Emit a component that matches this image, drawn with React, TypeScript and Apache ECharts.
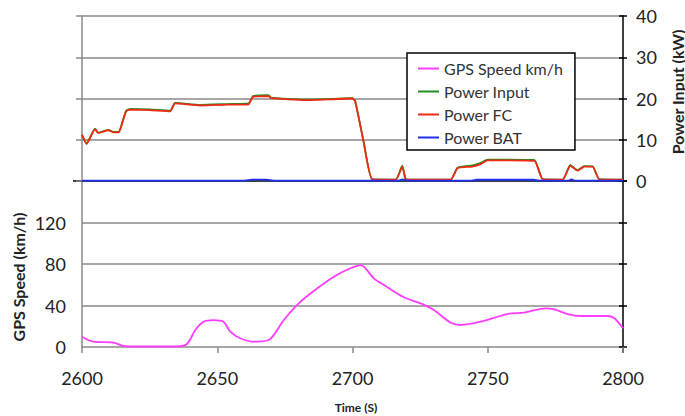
import React, { useEffect, useRef } from "react";
import * as echarts from "echarts";

const timeMin = 2600;
const timeMax = 2800;
const timeTicks = [2600, 2650, 2700, 2750, 2800];
const speedTicks = [0, 40, 80, 120];
const powerTicks = [0, 10, 20, 30, 40];

const fcT = [2600, 2601.7, 2603, 2604.8, 2606, 2609.7, 2611.6, 2613.5, 2614.3, 2616.3, 2617.8, 2625, 2632.6, 2634.4, 2643.7, 2653.6, 2661.6, 2663.2, 2669, 2669.9, 2682.6, 2699.9, 2701, 2704.2, 2707.3, 2716, 2718.4, 2719.6, 2720.9, 2736.3, 2738.8, 2744.3, 2747.4, 2749.9, 2767.2, 2770.3, 2777.7, 2780.5, 2783.2, 2785.7, 2788.8, 2791.2, 2800];
const fcV = [11.2, 9.0, 10.5, 12.6, 11.6, 12.3, 11.8, 11.8, 12.8, 16.9, 17.3, 17.2, 16.9, 18.8, 18.3, 18.5, 18.6, 20.4, 20.6, 20.1, 19.6, 20.0, 19.3, 9.2, 0.4, 0.3, 3.5, 0.5, 0.3, 0.3, 3.1, 3.5, 4.1, 5.0, 4.9, 0.4, 0.3, 3.7, 2.5, 3.5, 3.5, 0.4, 0.3];
const inV = [11.25, 9.05, 10.55, 12.7, 11.7, 12.4, 11.9, 11.9, 12.9, 17.05, 17.45, 17.35, 17.05, 18.95, 18.45, 18.65, 18.8, 20.6, 20.8, 20.2, 19.7, 20.1, 19.4, 9.25, 0.45, 0.35, 3.7, 0.55, 0.35, 0.35, 3.2, 3.8, 4.4, 5.2, 5.1, 0.45, 0.35, 3.9, 2.6, 3.6, 3.55, 0.45, 0.35];

const batT = [2600, 2660, 2663, 2668, 2671, 2717, 2718.5, 2720, 2744, 2746, 2767, 2769, 2780, 2781, 2782, 2800];
const batV = [0.1, 0.1, 0.35, 0.35, 0.1, 0.1, 0.4, 0.1, 0.1, 0.3, 0.3, 0.1, 0.1, 0.4, 0.1, 0.1];

const gpsT = [2600, 2604.2, 2611.6, 2615.3, 2619, 2635, 2638.8, 2641.9, 2644.9, 2648.6, 2652.3, 2654.8, 2658.5, 2663.4, 2669, 2674.6, 2680.1, 2687, 2693.1, 2698.6, 2703, 2707.9, 2711.6, 2719, 2725.2, 2730.1, 2736.3, 2740, 2747.4, 2757.3, 2763.4, 2771.5, 2774.6, 2779.5, 2784.4, 2794.3, 2796.8, 2800];
const gpsV = [9.9, 5.1, 4.2, 1.0, 0.5, 0.5, 2.9, 16.4, 24.4, 26, 24.4, 14.8, 8.4, 5.1, 6.7, 26, 42.1, 56.6, 67.8, 75.2, 79, 66.2, 59.8, 47.9, 42.1, 35.7, 23.4, 21.2, 24.4, 31.8, 33.1, 37.3, 36.3, 31.8, 29.9, 29.9, 27.7, 18];

const zip = (t: number[], v: number[]) => t.map((x, i) => [x, v[i]]);

const FONT = "Lato, 'Open Sans', sans-serif";
const GRAY = "#8a8a8a";

export default function App() {
  const ref = useRef<HTMLDivElement>(null);
  useEffect(() => {
    if (!ref.current) return;
    const chart = echarts.init(ref.current, undefined, { renderer: "svg" });
    const labelStyle = { color: "#222", fontSize: 18, fontFamily: FONT };
    chart.setOption({
      animation: false,
      backgroundColor: "#fff",
      grid: [
        { left: 82, right: 62, top: 16, height: 165 },
        { left: 82, right: 62, top: 181, height: 166 },
      ],
      xAxis: [
        {
          gridIndex: 0, type: "value", min: timeMin, max: timeMax, interval: 50,
          axisLine: { lineStyle: { color: "#000", width: 1.5 } },
          axisTick: { show: false }, axisLabel: { show: false }, splitLine: { show: false },
        },
        {
          gridIndex: 1, type: "value", min: timeMin, max: timeMax, interval: 50,
          axisLine: { lineStyle: { color: GRAY, width: 1.5 } },
          axisTick: { show: true, length: 6, lineStyle: { color: GRAY, width: 1.5 } },
          axisLabel: { ...labelStyle, margin: 22, formatter: (v: number) => (timeTicks.includes(v) ? String(v) : "") },
          splitLine: { show: false },
        },
      ],
      yAxis: [
        {
          gridIndex: 0, type: "value", position: "left", min: 0, max: 40, interval: 10,
          axisLine: { show: true, lineStyle: { color: GRAY, width: 1.5 } },
          axisTick: { show: true, length: 6, lineStyle: { color: GRAY, width: 1.5 } },
          axisLabel: { show: false },
          splitLine: { show: true, showMinLine: false, lineStyle: { color: GRAY, width: 1.5 } },
        },
        {
          gridIndex: 0, type: "value", position: "right", min: 0, max: 40, interval: 10,
          axisLine: { show: true, lineStyle: { color: "#000", width: 1.5 } },
          axisTick: { show: true, length: 4, lineStyle: { color: "#000", width: 1.5 } },
          axisLabel: { ...labelStyle, margin: 13, formatter: (v: number) => (powerTicks.includes(v) ? String(v) : "") },
          splitLine: { show: false },
        },
        {
          gridIndex: 0, type: "value", position: "right", min: 0, max: 40, interval: 10,
          axisLine: { show: false },
          axisTick: { show: true, inside: true, length: 4, lineStyle: { color: "#000", width: 1.5 } },
          axisLabel: { show: false }, splitLine: { show: false },
        },
        {
          gridIndex: 1, type: "value", position: "left", min: 0, max: 160, interval: 40,
          axisLine: { show: true, lineStyle: { color: GRAY, width: 1.5 } },
          axisTick: { show: false },
          axisLabel: { ...labelStyle, margin: 16, formatter: (v: number) => (speedTicks.includes(v) ? String(v) : "") },
          splitLine: { show: true, showMinLine: false, showMaxLine: false, lineStyle: { color: GRAY, width: 1.5 } },
        },
        {
          gridIndex: 1, type: "value", position: "right", min: 0, max: 160, interval: 40,
          axisLine: { show: true, lineStyle: { color: "#000", width: 1.5 } },
          axisTick: { show: true, length: 4, lineStyle: { color: "#000", width: 1.5 } },
          axisLabel: { show: false }, splitLine: { show: false },
        },
        {
          gridIndex: 1, type: "value", position: "right", min: 0, max: 160, interval: 40,
          axisLine: { show: false },
          axisTick: { show: true, inside: true, length: 4, lineStyle: { color: "#000", width: 1.5 } },
          axisLabel: { show: false }, splitLine: { show: false },
        },
      ],
      legend: {
        left: 407, top: 53, orient: "vertical",
        data: ["GPS Speed km/h", "Power Input", "Power FC", "Power BAT"],
        icon: "rect", itemWidth: 21, itemHeight: 2, itemGap: 6,
        padding: [7, 12, 4, 11],
        borderColor: "#000", borderWidth: 1.5, backgroundColor: "#fff",
        textStyle: { color: "#333", fontSize: 16, fontFamily: FONT, lineHeight: 17 },
      },
      graphic: [
        { type: "line", shape: { x1: 73, y1: 181, x2: 82, y2: 181 }, style: { stroke: "#000", lineWidth: 1.5 } },
        { type: "line", shape: { x1: 623, y1: 347, x2: 623, y2: 353 }, style: { stroke: "#000", lineWidth: 1.5 } },
        {
          type: "text", x: 18, y: 277, rotation: Math.PI / 2,
          style: { text: "GPS Speed (km/h)", fill: "#222", font: `bold 16px ${FONT}`, align: "center", verticalAlign: "middle" },
        },
        {
          type: "text", x: 677, y: 92, rotation: Math.PI / 2,
          style: { text: "Power Input (kW)", fill: "#222", font: `bold 16px ${FONT}`, align: "center", verticalAlign: "middle" },
        },
        {
          type: "text", x: 356, y: 407,
          style: { text: "Time (S)", fill: "#222", font: `bold 12px ${FONT}`, align: "center", verticalAlign: "middle" },
        },
      ],
      series: [
        {
          name: "GPS Speed km/h", type: "line", xAxisIndex: 1, yAxisIndex: 3,
          data: zip(gpsT, gpsV), symbol: "none", smooth: 0.3,
          lineStyle: { color: "#ff3cff", width: 1.8 }, itemStyle: { color: "#ff3cff" },
        },
        {
          name: "Power Input", type: "line", xAxisIndex: 0, yAxisIndex: 1,
          data: zip(fcT, inV), symbol: "none", smooth: 0.15,
          lineStyle: { color: "#1f8f1f", width: 1.8 }, itemStyle: { color: "#1f8f1f" },
        },
        {
          name: "Power FC", type: "line", xAxisIndex: 0, yAxisIndex: 1,
          data: zip(fcT, fcV), symbol: "none", smooth: 0.15,
          lineStyle: { color: "#f22a14", width: 1.8 }, itemStyle: { color: "#f22a14" },
        },
        {
          name: "Power BAT", type: "line", xAxisIndex: 0, yAxisIndex: 1,
          data: zip(batT, batV), symbol: "none",
          lineStyle: { color: "#1f2ff0", width: 1.8 }, itemStyle: { color: "#1f2ff0" },
        },
      ],
    });
    return () => chart.dispose();
  }, []);
  return <div ref={ref} style={{ position: "fixed", left: 0, top: 0, width: 685, height: 416 }} />;
}
